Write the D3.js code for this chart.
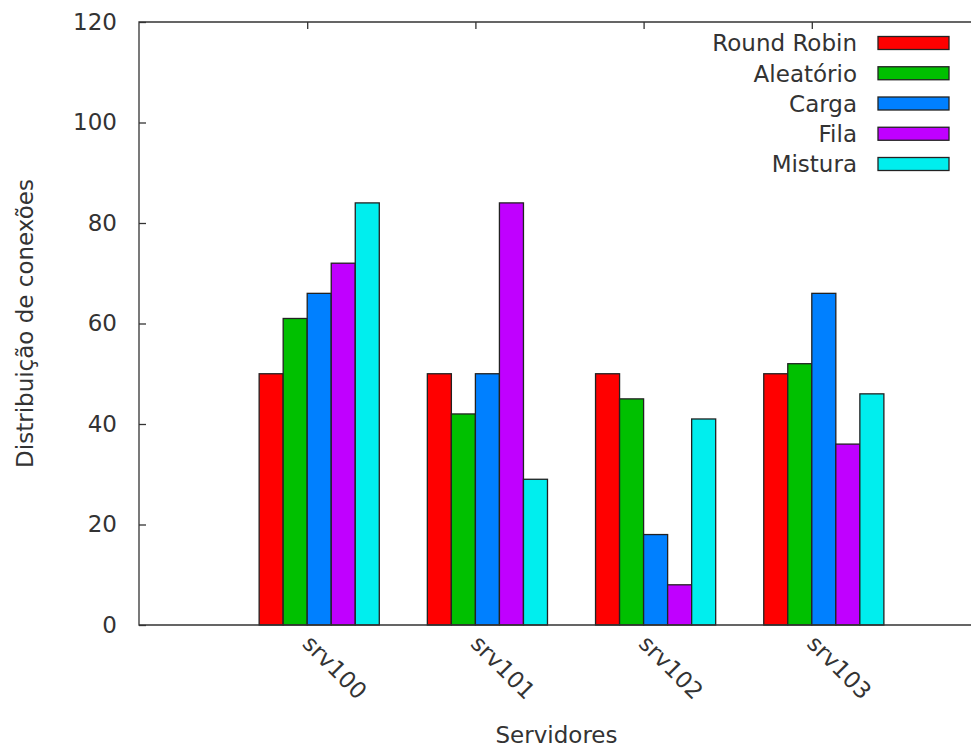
<!DOCTYPE html>
<html>
<head>
<meta charset="utf-8">
<script src="https://cdn.jsdelivr.net/npm/d3@7"></script>
<style>
  html, body { margin: 0; padding: 0; background: #fff; }
  svg { display: block; }
  text { font-family: "DejaVu Sans", sans-serif; fill: #333; }
</style>
</head>
<body>
<svg id="chart" width="971" height="747"></svg>
<script>
// Connection distribution per server, one series per balancing strategy
const servers = ["srv100", "srv101", "srv102", "srv103"];
const seriesNames = ["Round Robin", "Aleatório", "Carga", "Fila", "Mistura"];
const seriesColors = ["#ff0000", "#00c000", "#0080ff", "#c000ff", "#00eeee"];
const roundRobin = [50, 50, 50, 50];
const aleatorio  = [61, 42, 45, 52];
const carga      = [66, 50, 18, 66];
const fila       = [72, 84, 8, 36];
const mistura    = [84, 29, 41, 46];
const yTicks = [0, 20, 40, 60, 80, 100, 120];

const series = [roundRobin, aleatorio, carga, fila, mistura];

const svg = d3.select("#chart");
const fontSize = 23;

// Plot frame (right edge runs past the window)
const plotLeft = 139, plotRight = 980, plotTop = 22, plotBottom = 625;

const x = d3.scaleLinear().domain([-1, 4]).range([plotLeft, plotRight]);
const y = d3.scaleLinear().domain([0, 120]).range([plotBottom, plotTop]);

// Each cluster: 5 bars plus a 2-bar gap => 7 slots per unit
const slots = 7;
const barOffset = j => (j - 2) / slots;

// Bars
const bars = [];
series.forEach((vals, j) => {
  vals.forEach((v, i) => bars.push({ i, j, v }));
});
svg.append("g").selectAll("rect")
  .data(bars)
  .join("rect")
  .attr("x", d => x(d.i + barOffset(d.j)))
  .attr("width", d => x(d.i + barOffset(d.j) + 1 / slots) - x(d.i + barOffset(d.j)))
  .attr("y", d => y(d.v))
  .attr("height", d => y(0) - y(d.v))
  .attr("fill", d => seriesColors[d.j])
  .attr("stroke", "#222")
  .attr("stroke-width", 1.3);

// Frame
svg.append("path")
  .attr("d", `M${plotRight},${plotTop}H${plotLeft}V${plotBottom}H${plotRight}`)
  .attr("fill", "none")
  .attr("stroke", "#333")
  .attr("stroke-width", 1.3);

// Y axis: inward ticks, labels on the left
const yAxis = d3.axisLeft(y).tickValues(yTicks).tickSize(-7).tickPadding(22).tickFormat(d3.format("d"));
const yg = svg.append("g").attr("transform", `translate(${plotLeft},0)`).call(yAxis);
yg.select(".domain").remove();
yg.selectAll(".tick line").attr("stroke", "#333").attr("stroke-width", 1.3);
yg.selectAll(".tick text")
  .attr("font-family", "DejaVu Sans")
  .attr("font-size", fontSize)
  .attr("fill", "#333");

// Mirror x ticks along the top edge
const xTop = d3.axisBottom(x).tickValues(d3.range(servers.length)).tickSize(7).tickFormat("");
const xt = svg.append("g").attr("transform", `translate(0,${plotTop})`).call(xTop);
xt.select(".domain").remove();
xt.selectAll(".tick line").attr("stroke", "#333").attr("stroke-width", 1.3);

// X tick labels, rotated down to the right
svg.append("g").selectAll("text")
  .data(servers)
  .join("text")
  .attr("transform", (d, i) => `translate(${x(i) - 6},${plotBottom + 20}) rotate(45)`)
  .attr("text-anchor", "start")
  .attr("font-size", fontSize)
  .text(d => d);

// Axis titles
svg.append("text")
  .attr("transform", `translate(33,${(plotTop + plotBottom) / 2}) rotate(-90)`)
  .attr("text-anchor", "middle")
  .attr("font-size", fontSize)
  .text("Distribuição de conexões");

svg.append("text")
  .attr("x", (plotLeft + plotRight) / 2 - 3)
  .attr("y", 743)
  .attr("text-anchor", "middle")
  .attr("font-size", fontSize)
  .text("Servidores");

// Legend
const legendY = d3.scalePoint().domain(seriesNames).range([43, 164]);
const lg = svg.append("g");
const items = lg.selectAll("g")
  .data(seriesNames)
  .join("g")
  .attr("transform", d => `translate(0,${legendY(d)})`);
items.append("text")
  .attr("x", 857)
  .attr("dy", "0.36em")
  .attr("text-anchor", "end")
  .attr("font-size", fontSize)
  .text(d => d);
items.append("rect")
  .attr("x", 878)
  .attr("y", -6.5)
  .attr("width", 71)
  .attr("height", 13)
  .attr("fill", (d, k) => seriesColors[k])
  .attr("stroke", "#222")
  .attr("stroke-width", 1.3);
</script>
</body>
</html>
